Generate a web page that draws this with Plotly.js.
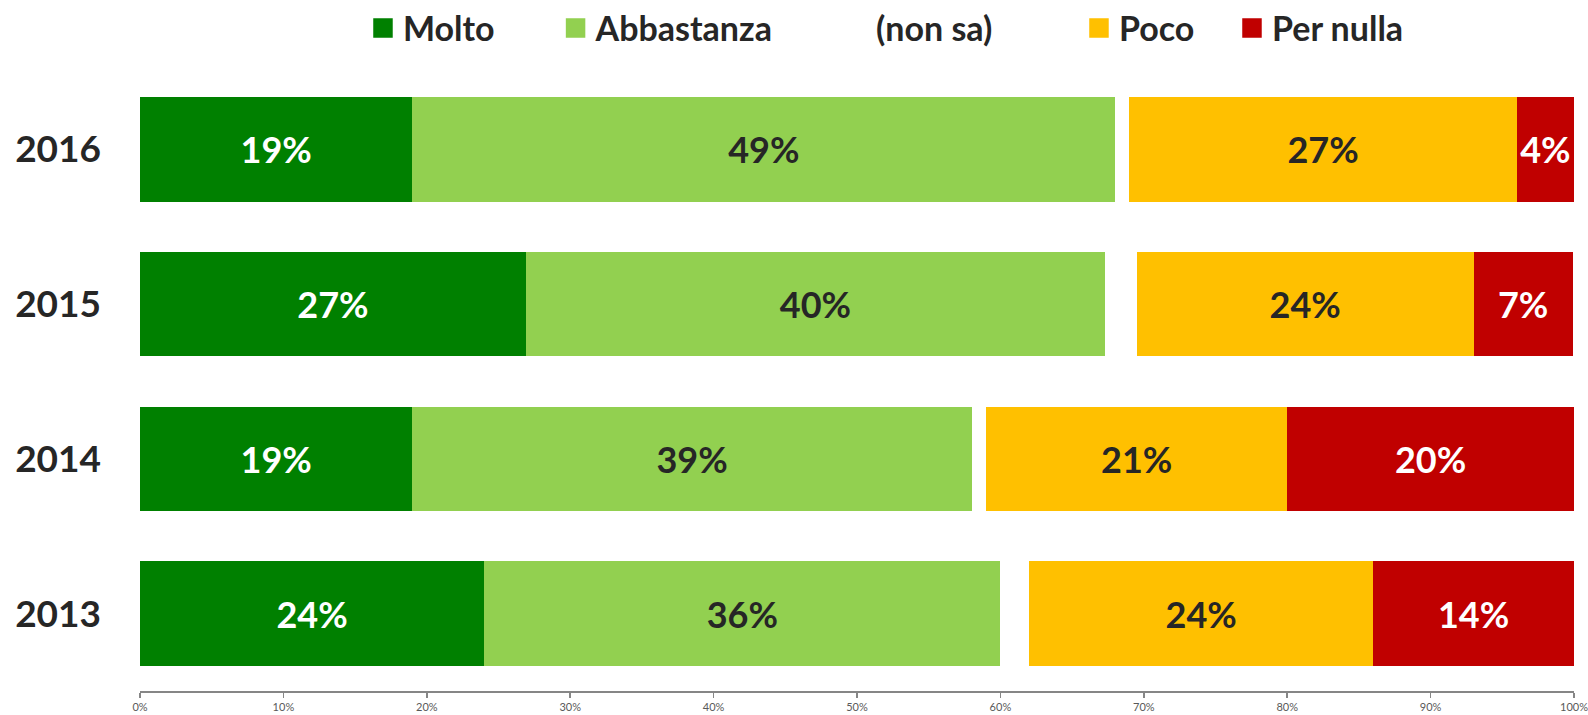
<!DOCTYPE html>
<html><head><meta charset="utf-8">
<script src="https://cdn.plot.ly/plotly-3.0.1.min.js"></script>
<style>html,body{margin:0;padding:0;background:#fff}#chart{width:1588px;height:715px}</style>
</head><body><div id="chart"></div>
<script>
var years = ['2013', '2014', '2015', '2016'];
var molto = [24, 19, 26.9, 19];
var abbastanza = [36, 39, 40.4, 49];
var nonSa = [2, 1, 2.2, 1];
var poco = [24, 21, 23.5, 27];
var perNulla = [14, 20, 6.9, 4];
var seriesNames = ['Molto', 'Abbastanza', '(non sa)', 'Poco', 'Per nulla'];
var seriesColors = ['#008000', '#92D050', '#FFFFFF', '#FFC000', '#C00000'];
var labelColors = ['#FFFFFF', '#262626', '#262626', '#262626', '#FFFFFF'];
var xTickVals = [0, 10, 20, 30, 40, 50, 60, 70, 80, 90, 100];
var xTickText = ['0%', '10%', '20%', '30%', '40%', '50%', '60%', '70%', '80%', '90%', '100%'];
var legendX = [0.1555, 0.2898, 0.4854, 0.6548, 0.7615];

var FONT = 'Lato, "Open Sans", sans-serif';
var seriesData = [molto, abbastanza, nonSa, poco, perNulla];
var traces = [];
seriesData.forEach(function (vals, i) {
  var isGap = (i === 2);
  traces.push({
    type: 'bar', orientation: 'h', y: years, x: vals, name: seriesNames[i],
    marker: {color: seriesColors[i], line: {width: 0}},
    text: isGap ? vals.map(function () { return ''; }) : vals.map(function (v) { return Math.round(v) + '%'; }),
    textposition: isGap ? 'none' : 'inside', insidetextanchor: 'middle', textangle: 0,
    constraintext: 'none',
    textfont: {family: FONT, size: 36, color: labelColors[i], weight: 'bold'},
    hoverinfo: 'x+name', showlegend: false
  });
});
var legendKeys = ['legend', 'legend2', 'legend3', 'legend4', 'legend5'];
seriesNames.forEach(function (n, i) {
  traces.push({
    type: 'scatter', mode: 'markers', x: [null], y: [null], name: n,
    legend: legendKeys[i], showlegend: true, hoverinfo: 'skip',
    marker: {symbol: 'square', size: 16, color: seriesColors[i], line: {width: 3.5, color: seriesColors[i]}}
  });
});

var layout = {
  width: 1588, height: 715,
  margin: {l: 140, r: 14, t: 71.5, b: 23.5, autoexpand: false},
  paper_bgcolor: '#fff', plot_bgcolor: '#fff',
  barmode: 'stack', bargap: 0.326,
  font: {family: FONT},
  xaxis: {
    range: [0, 100], tickmode: 'array', tickvals: xTickVals, ticktext: xTickText,
    ticklabeloverflow: 'allow',
    showgrid: false, zeroline: false,
    showline: true, linecolor: '#868686', linewidth: 2, ticks: 'outside', ticklen: 5, tickwidth: 1.5,
    tickcolor: '#868686', tickfont: {family: FONT, size: 11, color: '#595959'}, fixedrange: true
  },
  yaxis: {
    type: 'category', categoryorder: 'array', categoryarray: years,
    range: [-0.5, 3.5], showgrid: false, zeroline: false, showline: false, ticks: '',
    ticklabelstandoff: 38,
    tickfont: {family: FONT, size: 37, color: '#262626', weight: 'bold'}, fixedrange: true
  },
  showlegend: true
};
legendKeys.forEach(function (k, i) {
  layout[k] = {
    orientation: 'h', x: legendX[i], xanchor: 'left',
    yref: 'container', y: 1 - 28.4 / 715, yanchor: 'middle',
    bgcolor: 'rgba(0,0,0,0)', borderwidth: 0,
    font: {family: FONT, size: 34, color: '#262626', weight: 'bold'},
    itemclick: false, itemdoubleclick: false
  };
});

Plotly.newPlot('chart', traces, layout, {displayModeBar: false, staticPlot: true});
</script></body></html>
